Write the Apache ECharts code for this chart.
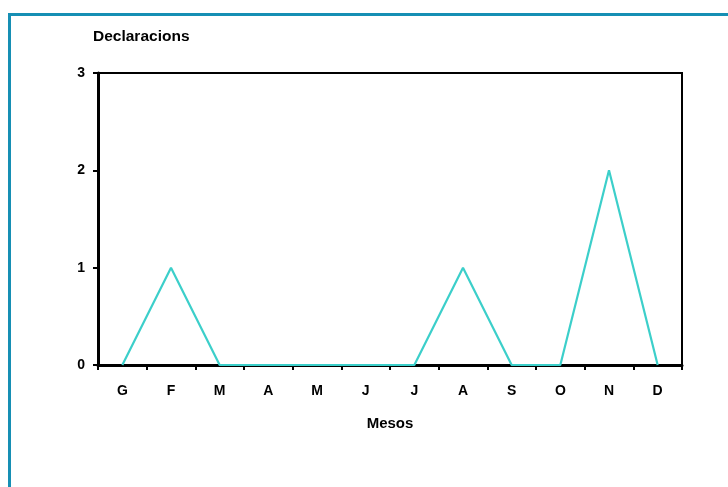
<!DOCTYPE html>
<html>
<head>
<meta charset="utf-8">
<script src="https://cdn.jsdelivr.net/npm/echarts@6/dist/echarts.min.js"></script>
<style>html,body{margin:0;padding:0;background:#fff}#c{width:728px;height:487px}</style>
</head>
<body>
<div id="c"></div>
<script>
const months = ['G','F','M','A','M','J','J','A','S','O','N','D'];
const declaracions = [0,1,0,0,0,0,0,1,0,0,2,0];
const yTicks = [0,1,2,3];
const yTitle = 'Declaracions';
const xTitle = 'Mesos';

const chart = echarts.init(document.getElementById('c'), null, {renderer:'canvas'});
const font = 'Liberation Sans, Arial, sans-serif';
chart.setOption({
  animation:false,
  backgroundColor:'#fff',
  graphic:[{type:'rect',shape:{x:9.5,y:14.5,width:800,height:600},style:{fill:'none',stroke:'#168fb4',lineWidth:3},silent:true},
    {type:'text',left:93,top:29,style:{text:yTitle,font:'bold 15.5px '+font,fill:'#000'}}],
  grid:{left:98,top:73,width:584,height:292,show:true,borderColor:'#000',borderWidth:2,backgroundColor:'transparent'},
  xAxis:{type:'category',data:months,boundaryGap:true,
    name:xTitle,nameLocation:'middle',nameGap:51,nameTextStyle:{fontFamily:font,fontWeight:'bold',fontSize:15,color:'#000'},
    axisLine:{lineStyle:{color:'#000',width:3}},
    axisTick:{show:true,interval:0,length:5,lineStyle:{color:'#000',width:2}},
    axisLabel:{interval:0,margin:19,fontFamily:font,fontWeight:'bold',fontSize:14,color:'#000'}},
  yAxis:{type:'value',min:yTicks[0],max:yTicks[yTicks.length-1],interval:1,
    axisLine:{show:true,lineStyle:{color:'#000',width:3}},
    axisTick:{show:true,length:5,lineStyle:{color:'#000',width:2}},
    splitLine:{show:false},
    axisLabel:{margin:13,fontFamily:font,fontWeight:'bold',fontSize:14,color:'#000'}},
  series:[{type:'line',data:declaracions,symbol:'none',lineStyle:{color:'#3ccfca',width:2.2},z:3}]
});
</script>
</body>
</html>
